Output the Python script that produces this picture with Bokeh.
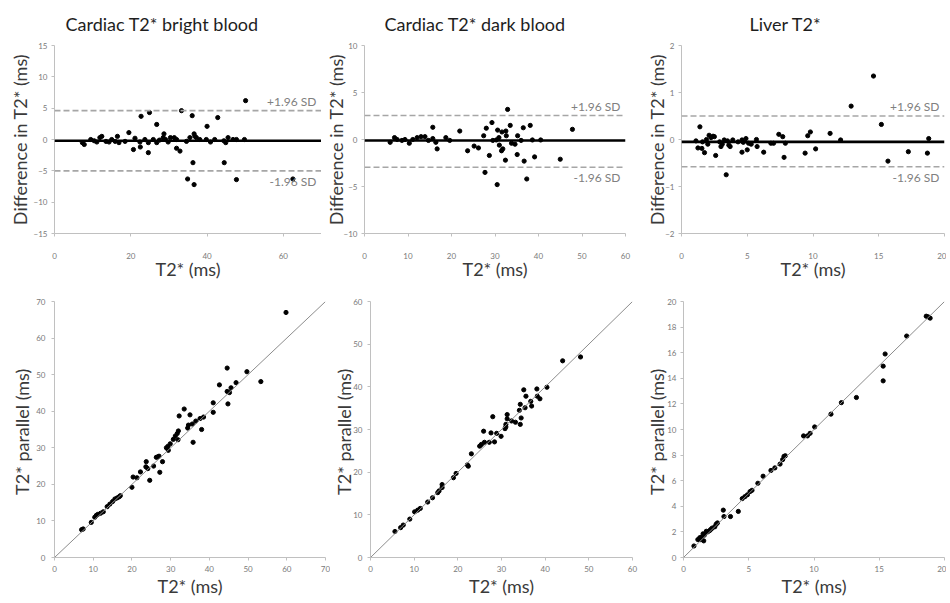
from bokeh.plotting import figure
from bokeh.models import Range1d, FixedTicker, Span, Label, Slope
from bokeh.layouts import row, column
from bokeh.embed import file_html
from bokeh.resources import INLINE

# ---------------- data ----------------
titles = ["Cardiac T2* bright blood", "Cardiac T2* dark blood", "Liver T2*"]

# Bland-Altman (top row): x = T2*, y = difference
ba1_x = [50.1, 33.3, 24.9, 22.7, 36.1, 42.8, 26.8, 40.0, 19.5, 28.7, 36.6, 20.7, 22.5, 24.6, 32.0, 32.9,
         36.3, 44.5, 34.9, 36.6, 47.7, 62.5,
         7.3, 7.8, 9.5, 10.4, 11.1, 11.9, 12.4, 13.5, 14.3, 15.0, 15.9, 16.5, 16.9, 18.5, 21.1, 22.4,
         23.7, 24.6, 25.9, 26.8, 27.5, 28.5, 29.1, 29.8, 30.4, 31.4, 32.0, 34.6, 35.5, 36.8, 37.2,
         38.1, 39.8, 40.9, 42.0, 44.4, 44.9, 45.5, 46.8, 47.7, 49.8]
ba1_y = [6.2, 4.6, 4.3, 3.7, 3.8, 3.5, 2.4, 2.1, 1.1, 0.9, 0.9, -1.6, -1.2, -2.1, -1.4, -1.85,
         -3.7, -3.7, -6.3, -7.2, -6.4, -6.3,
         -0.5, -0.8, 0.0, -0.2, -0.4, 0.3, 0.5, -0.3, -0.4, 0.0, -0.3, 0.5, -0.5, -0.3, 0.2, -0.4,
         0.0, -0.5, 0.0, -0.5, -0.1, 0.3, 0.0, -0.4, 0.3, 0.3, 0.0, -0.3, 0.3, 0.5, 0.3,
         0.0, 0.0, -0.4, 0.0, -0.2, -0.5, 0.3, 0.0, 0.0, 0.0]

ba2_x = [47.8, 32.9, 29.3, 28.0, 27.4, 21.9, 15.7, 30.6, 31.6, 32.5, 33.5, 36.5, 38.1, 35.2, 32.6, 30.9,
         45.0, 39.1, 36.7, 35.1, 32.4, 31.8, 31.5, 28.7, 27.7, 30.5, 37.3, 23.7, 26.2, 25.2, 16.7,
         34.6, 36.0, 38.6, 40.5, 29.5, 30.3, 33.8, 31.0,
         5.9, 6.9, 7.5, 8.6, 9.3, 10.3, 11.1, 12.1, 13.0, 13.9, 14.7, 15.7, 16.4, 18.7, 19.6]
ba2_y = [1.08, 3.2, 1.8, 1.2, 0.4, 0.9, 1.3, 1.0, 0.8, 0.9, 1.5, 1.25, 1.5, 0.4, 0.4, 0.2,
         -2.1, -1.85, -2.3, -1.6, -2.2, -1.0, -1.2, -1.7, -3.5, -4.8, -4.2, -1.2, -0.9, -0.7, -1.0,
         -0.5, -0.1, -0.05, -0.05, -0.1, -0.05, -0.4, -0.6,
         -0.3, 0.2, 0.0, -0.1, 0.0, -0.4, 0.0, 0.2, 0.3, 0.3, -0.1, 0.1, -0.3, 0.2, -0.1]

ba3_x = [14.6, 12.9, 15.2, 15.7, 17.25, 18.7, 18.8, 12.1, 11.3, 10.2, 9.4, 9.6, 9.8, 7.8, 7.4, 7.7,
         7.9, 6.25, 5.75, 5.7, 5.1, 5.0, 4.9, 4.6, 4.6, 3.9, 3.4, 3.6, 3.25, 2.6, 2.5, 2.25, 2.1,
         2.4, 1.75, 1.55, 1.4, 1.25, 1.6, 6.8, 7.0, 2.9, 3.1, 3.5, 4.3, 4.7, 1.9, 1.1, 2.0, 5.3,
         3.7, 3.0]
ba3_y = [1.35, 0.71, 0.32, -0.46, -0.26, -0.29, 0.02, -0.01, 0.13, -0.20, -0.29, 0.08, 0.16, -0.38,
         0.11, 0.06, -0.08, -0.27, -0.15, 0.0, -0.08, -0.22, 0.02, -0.27, -0.01, -0.01, -0.75, -0.12,
         -0.01, -0.34, 0.06, 0.04, 0.09, 0.07, -0.28, -0.19, 0.27, -0.18, -0.05, -0.08, -0.08, -0.05,
         -0.1, -0.03, -0.05, -0.06, 0.0, -0.03, -0.1, -0.1, -0.15, -0.15]

ba_mean = [-0.2, -0.1, -0.05]
ba_upper = [4.6, 2.55, 0.5]
ba_lower = [-5.0, -2.95, -0.58]
upper_text = "+1.96 SD"
lower_text = "-1.96 SD"

# Correlation (bottom row): x = T2*, y = T2* parallel
c1_x = [59.8, 53.3, 49.7, 46.9, 45.6, 44.6, 44.6, 45.2, 44.8, 42.6, 41.0, 41.0, 38.5, 38.0, 37.6, 36.5,
        35.6, 34.6, 35.8, 34.4, 35.0, 33.5, 32.2, 32.0, 31.7, 31.2, 30.7, 31.9, 29.9, 29.3, 28.9, 29.4,
        27.0, 27.9, 26.7, 26.3, 27.2, 25.6, 24.1, 23.7, 23.6, 24.6, 22.2, 21.3, 20.3, 20.0, 17.0, 16.7,
        16.2, 15.6, 15.0, 14.3, 13.6, 12.6, 11.9, 11.2, 10.8, 10.4, 9.5, 7.4, 7.0]
c1_y = [67.0, 48.1, 50.8, 47.8, 46.4, 51.8, 45.4, 45.1, 42.0, 47.2, 42.3, 39.7, 38.4, 35.0, 38.0, 37.3,
        36.5, 36.2, 31.5, 35.4, 39.0, 40.6, 38.7, 34.6, 33.9, 33.2, 32.3, 32.2, 31.1, 30.4, 30.0, 29.3,
        27.7, 26.2, 27.5, 27.4, 23.3, 25.0, 24.3, 26.2, 24.8, 21.1, 23.4, 21.8, 22.0, 19.2, 16.9, 16.6,
        16.3, 16.0, 15.3, 14.6, 13.9, 12.5, 12.1, 11.8, 11.5, 11.0, 9.6, 7.8, 7.6]

c2_x = [48.1, 44.0, 40.4, 38.8, 38.1, 38.2, 36.9, 36.7, 35.6, 35.1, 35.4, 34.3, 34.1, 34.3, 34.5, 33.2,
        32.3, 31.3, 31.3, 31.0, 30.8, 31.0, 29.9, 28.9, 28.0, 27.6, 28.4, 27.2, 25.9, 26.1, 25.4, 25.0,
        23.1, 22.2, 22.4, 19.6, 19.0, 16.4, 16.4, 15.7, 15.4, 14.2, 13.1, 11.4, 10.8, 10.1, 9.0, 7.5,
        6.9, 5.6]
c2_y = [47.0, 46.1, 39.9, 37.2, 39.5, 37.8, 35.5, 36.6, 37.8, 39.3, 35.1, 35.9, 34.5, 31.2, 32.7, 31.7,
        32.0, 33.5, 32.5, 31.2, 30.2, 30.6, 28.4, 29.1, 33.0, 29.2, 27.1, 27.0, 29.6, 27.0, 26.5, 26.1,
        24.3, 21.7, 21.4, 19.7, 18.7, 17.1, 16.4, 15.6, 15.2, 14.0, 13.0, 11.5, 11.1, 10.7, 9.0, 7.6,
        7.0, 6.1]

c3_x = [18.75, 18.6, 18.9, 17.1, 15.45, 15.3, 15.3, 13.25, 12.1, 11.3, 10.05, 9.7, 9.5, 9.2, 7.8, 7.7,
        7.6, 7.4, 7.0, 6.7, 6.1, 5.7, 5.25, 5.1, 4.9, 4.7, 4.5, 4.2, 3.6, 3.05, 3.1, 2.6, 2.5, 2.4,
        2.2, 2.1, 2.0, 1.85, 1.75, 1.6, 1.5, 1.4, 1.25, 1.1, 1.3, 1.55, 0.8]
c3_y = [18.8, 18.85, 18.7, 17.3, 15.9, 14.95, 13.8, 12.5, 12.1, 11.2, 10.2, 9.7, 9.5, 9.5, 7.95, 7.9,
        7.65, 7.3, 7.0, 6.8, 6.35, 5.8, 5.25, 5.15, 4.9, 4.75, 4.6, 3.6, 3.2, 3.7, 3.2, 2.7, 2.6, 2.4,
        2.3, 2.2, 2.1, 2.0, 2.05, 1.75, 1.85, 1.6, 1.55, 1.4, 1.4, 1.3, 0.9]

# axis ranges and ticks
top_xmax = [70, 60, 20]
top_ylim = [15, 10, 2]
top_xticks = [[0, 20, 40, 60], [0, 10, 20, 30, 40, 50, 60], [0, 5, 10, 15, 20]]
top_yticks = [[-15, -10, -5, 0, 5, 10, 15], [-10, -5, 0, 5, 10], [-2, -1, 0, 1, 2]]
bot_max = [70, 60, 20]
bot_xticks = [[0, 10, 20, 30, 40, 50, 60, 70], [0, 10, 20, 30, 40, 50, 60], [0, 5, 10, 15, 20]]
bot_yticks = [[0, 10, 20, 30, 40, 50, 60, 70], [0, 10, 20, 30, 40, 50, 60],
              [0, 2, 4, 6, 8, 10, 12, 14, 16, 18, 20]]

x_label = "T2* (ms)"
top_y_label = "Difference in T2* (ms)"
bot_y_label = "T2* parallel  (ms)"

# ---------------- styling ----------------
FONT = "Lato"
AXIS_GREY = "#c0c0c0"
TICK_TEXT = "#7a7a7a"
LABEL_TEXT = "#3a3a3a"


def style(p, xticks, yticks, x_stand, y_stand, y_label_stand):
    p.xgrid.visible = False
    p.ygrid.visible = False
    p.outline_line_color = None
    p.xaxis.ticker = FixedTicker(ticks=xticks)
    p.yaxis.ticker = FixedTicker(ticks=yticks)
    for ax in (p.xaxis[0], p.yaxis[0]):
        ax.axis_line_color = AXIS_GREY
        ax.axis_line_width = 1
        ax.major_tick_line_color = AXIS_GREY
        ax.major_tick_out = 3
        ax.major_tick_in = 0
        ax.minor_tick_line_color = None
        ax.major_label_text_font = FONT
        ax.major_label_text_font_size = "8px"
        ax.major_label_text_color = TICK_TEXT
        ax.axis_label_text_font = FONT
        ax.axis_label_text_font_size = "18px"
        ax.axis_label_text_font_style = "normal"
        ax.axis_label_text_color = LABEL_TEXT
        ax.axis_label_standoff = 0
    p.xaxis.major_label_standoff = x_stand
    p.yaxis.major_label_standoff = y_stand
    p.yaxis.axis_label_standoff = y_label_stand
    p.xaxis.axis_label = x_label


ba_x = [ba1_x, ba2_x, ba3_x]
ba_y = [ba1_y, ba2_y, ba3_y]
c_x = [c1_x, c2_x, c3_x]
c_y = [c1_y, c2_y, c3_y]

# layout geometry (pixels): total widths per column, borders
top_w = [321, 322, 303]
top_left_b = [54, 42, 35]
top_right_b = [0, 18, 2]
top_ylab_stand = [0, -6, -6]
title_offset = [11, 20, 68]
bot_w = [330, 313, 303]
bot_left_b = [54, 35, 35]
bot_right_b = [5, 11, 2]
bot_ylab_stand = [0, -5, -4]
bot_ytick_stand = [6, 5, 4]

top_figs = []
for i in range(3):
    p = figure(width=top_w[i], height=282,
               x_range=Range1d(0, top_xmax[i]), y_range=Range1d(-top_ylim[i], top_ylim[i]),
               toolbar_location=None, output_backend="svg",
               min_border_left=top_left_b[i], min_border_right=top_right_b[i],
               min_border_top=45, min_border_bottom=48,
               title=titles[i])
    p.title.align = "left"
    p.title.offset = title_offset[i]
    p.title.text_font = FONT
    p.title.text_font_size = "18px"
    p.title.text_font_style = "normal"
    p.title.text_color = "#1e1e1e"
    p.title.standoff = 21
    style(p, top_xticks[i], top_yticks[i], 16, 4, top_ylab_stand[i])
    p.xaxis.axis_label_standoff = -4
    p.yaxis.axis_label = top_y_label

    p.add_layout(Span(location=ba_upper[i], dimension="width", line_color="#a6a6a6",
                      line_width=1.6, line_dash="6 3"))
    p.add_layout(Span(location=ba_lower[i], dimension="width", line_color="#a6a6a6",
                      line_width=1.6, line_dash="6 3"))
    p.add_layout(Span(location=ba_mean[i], dimension="width", line_color="black",
                      line_width=2.6))
    p.scatter(ba_x[i], ba_y[i], size=4.2, color="black")
    p.add_layout(Label(x=top_xmax[i], y=ba_upper[i], text=upper_text, text_align="right",
                       text_baseline="bottom", x_offset=-5, y_offset=2, text_font=FONT,
                       text_font_size="12px", text_color="#808080"))
    p.add_layout(Label(x=top_xmax[i], y=ba_lower[i], text=lower_text, text_align="right",
                       text_baseline="top", x_offset=-5, y_offset=-3, text_font=FONT,
                       text_font_size="12px", text_color="#808080"))
    top_figs.append(p)

bot_figs = []
for i in range(3):
    p = figure(width=bot_w[i], height=318,
               x_range=Range1d(0, bot_max[i]), y_range=Range1d(0, bot_max[i]),
               toolbar_location=None, output_backend="svg",
               min_border_left=bot_left_b[i], min_border_right=bot_right_b[i],
               min_border_top=19, min_border_bottom=43)
    style(p, bot_xticks[i], bot_yticks[i], 5, bot_ytick_stand[i], bot_ylab_stand[i])
    p.yaxis.axis_label = bot_y_label
    p.add_layout(Slope(gradient=1, y_intercept=0, line_color="#8c8c8c", line_width=1))
    p.scatter(c_x[i], c_y[i], size=4.2, color="black")
    bot_figs.append(p)

layout = column(row(*top_figs), row(*bot_figs))

open("out.html", "w").write(file_html(layout, INLINE))
